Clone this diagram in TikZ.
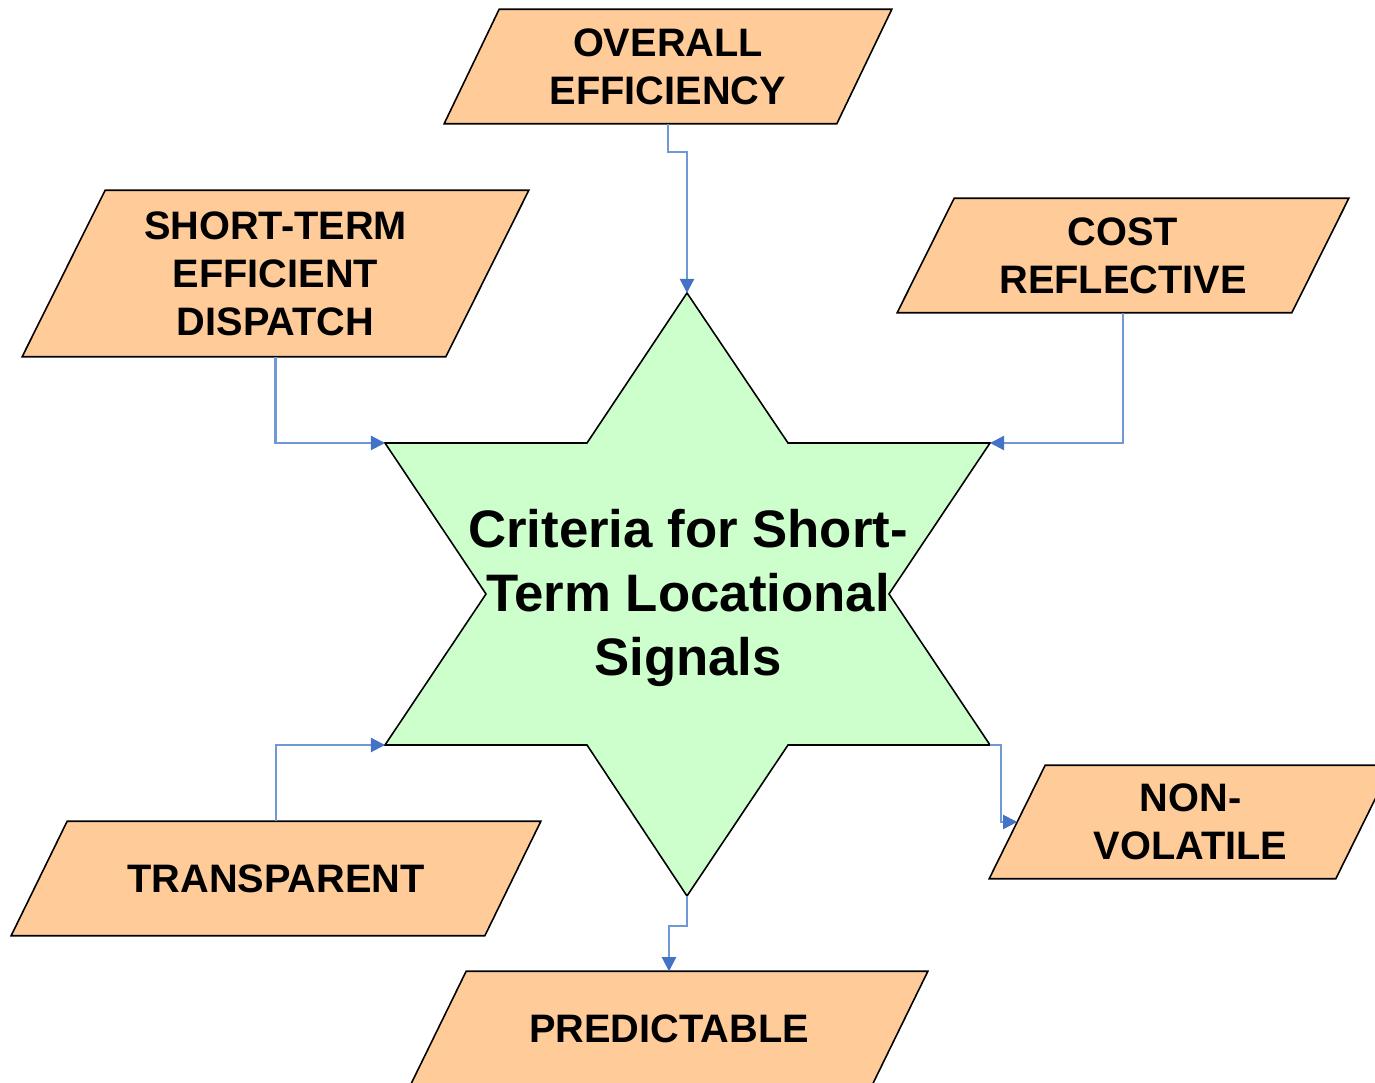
\documentclass[tikz,border=0pt]{standalone}
\usepackage{fontspec}
\setmainfont{Liberation Sans}
\usetikzlibrary{calc,backgrounds,arrows.meta}
\definecolor{peach}{RGB}{255,204,153}
\definecolor{mint}{RGB}{204,255,204}
\definecolor{linkblue}{RGB}{112,152,214}
\definecolor{tipblue}{RGB}{68,114,196}
\tikzset{
  paratext/.style={inner sep=0pt, align=center, font=\fontsize{11.3}{13.66}\selectfont\bfseries},
  startext/.style={inner sep=0pt, align=center, font=\fontsize{15}{18.2}\selectfont\bfseries},
  paraline/.style={draw=black, line width=0.45pt, fill=peach},
  starline/.style={draw=black, line width=0.45pt, fill=mint},
  link/.style={draw=linkblue, line width=0.6pt, -{Triangle[length=4pt,width=4pt,color=tipblue]}},
}
\newcommand\parashape[2]{%
  \path[paraline] ($(#1.north west)+(#2,0)$) -- (#1.north east) -- ($(#1.south east)-(#2,0)$) -- (#1.south west) -- cycle;}
\begin{document}
\begin{tikzpicture}[x=0.01cm,y=-0.01cm]
\useasboundingbox (0,0) rectangle (1375,1083);
% star vertices
\coordinate (st-t)  at (687,293);
\coordinate (st-i1) at (788,443);
\coordinate (st-ur) at (990,443);
\coordinate (st-i2) at (889,594);
\coordinate (st-lr) at (990,745);
\coordinate (st-i3) at (788,745);
\coordinate (st-b)  at (687,896);
\coordinate (st-i4) at (587,745);
\coordinate (st-ll) at (385,745);
\coordinate (st-i5) at (486,594);
\coordinate (st-ul) at (385,443);
\coordinate (st-i6) at (587,443);
% text nodes
\node[paratext, minimum width=4.46cm, minimum height=1.13cm] (oe) at (668,66.5) {OVERALL\\EFFICIENCY};
\node[paratext, minimum width=5.05cm, minimum height=1.65cm] (sd) at (275.5,273.5) {SHORT-TERM\\EFFICIENT\\DISPATCH};
\node[paratext, minimum width=4.50cm, minimum height=1.13cm] (cr) at (1123,255.5) {COST\\REFLECTIVE};
\node[paratext, minimum width=5.28cm, minimum height=1.13cm] (tr) at (276,878.5) {TRANSPARENT};
\node[paratext, minimum width=4.01cm, minimum height=1.12cm] (nv) at (1190.5,822) {NON-\\VOLATILE};
\node[paratext, minimum width=5.16cm, minimum height=1.13cm] (pr) at (669,1028.5) {PREDICTABLE};
\node[startext] (ctr) at (688,598) {Criteria for Short-\\Term Locational\\Signals};
\coordinate (nv-in) at ($(nv.west)+(28,0)$);
% shapes behind the text
\begin{scope}[on background layer]
  \parashape{oe}{55}
  \parashape{sd}{83}
  \parashape{cr}{57}
  \parashape{tr}{56}
  \parashape{nv}{56}
  \parashape{pr}{56}
  \path[starline] (st-t) -- (st-i1) -- (st-ur) -- (st-i2) -- (st-lr) -- (st-i3) -- (st-b)
     -- (st-i4) -- (st-ll) -- (st-i5) -- (st-ul) -- (st-i6) -- cycle;
\end{scope}
% connectors
\draw[link] (oe.south) -- ++(0,28) -| (st-t);
\draw[link] (sd.south) |- (st-ul);
\draw[link] (cr.south) |- (st-ur);
\draw[link] (tr.north) |- (st-ll);
\draw[link] (st-lr) -- ++(11,0) |- (nv-in);
\draw[link] (st-b) -- ++(0,30) -| (pr.north);
\end{tikzpicture}
\end{document}
